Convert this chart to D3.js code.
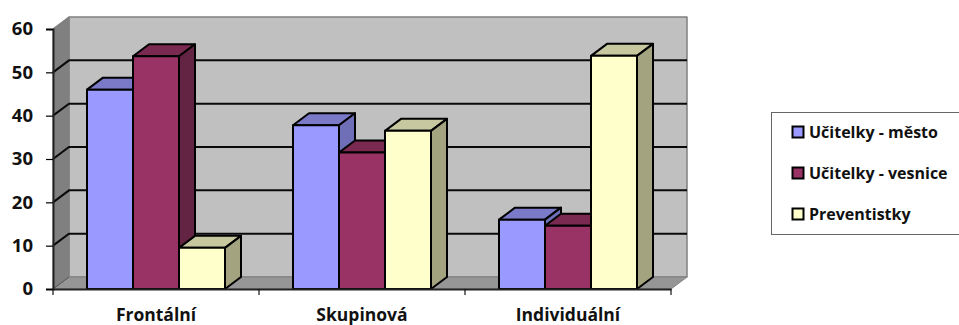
<!DOCTYPE html>
<html>
<head>
<meta charset="utf-8">
<script src="https://cdn.jsdelivr.net/npm/d3@7"></script>
<style>
html,body{margin:0;padding:0;background:#fff;overflow:hidden}
svg{display:block}
text{font-family:"Open Sans",Lato,sans-serif;font-weight:700;fill:#111}
</style>
</head>
<body>
<svg id="chart" width="959" height="325"></svg>
<script>
const categories = ["Frontální", "Skupinová", "Individuální"];
const seriesNames = ["Učitelky - město", "Učitelky - vesnice", "Preventistky"];
const mesto = [46, 37.8, 16];
const vesnice = [53.7, 31.5, 14.6];
const preventistky = [9.5, 36.5, 53.8];
const seriesValues = [mesto, vesnice, preventistky];
const frontColors = ["#9999ff", "#993366", "#ffffcc"];
const topColors = ["#7a7ac8", "#7a2950", "#c8c8a0"];
const sideColors = ["#6f6fb8", "#632342", "#a3a380"];
const yTicks = [0, 10, 20, 30, 40, 50, 60];

const svg = d3.select("#chart");
const depthX = 16, depthY = -12;
const plot = {left: 53, right: 671, top: 29, bottom: 289};

const x = d3.scaleBand().domain(categories).range([plot.left, plot.right]);
const y = d3.scaleLinear().domain([0, 60]).range([plot.bottom, plot.top]);
const inner = d3.scaleBand().domain(d3.range(seriesNames.length))
  .range([34, x.bandwidth() - 34]);

const poly = (pts, fill, stroke, sw) => svg.append("polygon")
  .attr("points", pts.map(p => p.join(",")).join(" "))
  .attr("fill", fill)
  .attr("stroke", stroke)
  .attr("stroke-width", sw)
  .attr("stroke-linejoin", "round");

const l = plot.left, r = plot.right, t = plot.top, b = plot.bottom;

// Walls and floor of the 3D box
poly([[l + depthX, t + depthY], [r + depthX, t + depthY], [r + depthX, b + depthY], [l + depthX, b + depthY]],
  "#c0c0c0", "#808080", 1.5);
poly([[l, t], [l + depthX, t + depthY], [l + depthX, b + depthY], [l, b]], "#808080", "#808080", 1);
poly([[l, b], [l + depthX, b + depthY], [r + depthX, b + depthY], [r, b]], "#969696", "#808080", 1);

// Gridlines wrap from the left wall onto the back wall
yTicks.filter(v => v > 0 && v < 60).forEach(v => {
  svg.append("path")
    .attr("d", `M${l},${y(v)}L${l + depthX},${y(v) + depthY}H${r + depthX}`)
    .attr("fill", "none").attr("stroke", "#0a0a0a").attr("stroke-width", 2);
});
svg.append("path")
  .attr("d", `M${l},${y(60)}L${l + depthX},${y(60) + depthY}`)
  .attr("fill", "none").attr("stroke", "#808080").attr("stroke-width", 1.2);
svg.append("path")
  .attr("d", `M${l},${y(0)}L${l + depthX},${y(0) + depthY}`)
  .attr("fill", "none").attr("stroke", "#555").attr("stroke-width", 1);

// Bars, painted series by series so later fronts overlap earlier sides
categories.forEach((cat, c) => {
  seriesValues.forEach((vals, s) => {
    const x0 = x(cat) + inner(s), x1 = x0 + inner.bandwidth();
    const y0 = y(vals[c]), yb = y(0);
    poly([[x0, y0], [x0 + depthX, y0 + depthY], [x1 + depthX, y0 + depthY], [x1, y0]], topColors[s], "#000", 2);
    poly([[x1, y0], [x1 + depthX, y0 + depthY], [x1 + depthX, yb + depthY], [x1, yb]], sideColors[s], "#000", 2);
    poly([[x0, y0], [x1, y0], [x1, yb], [x0, yb]], frontColors[s], "#000", 2);
  });
});

// Axes
const yAxis = svg.append("g").attr("transform", `translate(${l},0)`)
  .call(d3.axisLeft(y).tickValues(yTicks).tickSize(7).tickPadding(13));
const xAxis = svg.append("g").attr("transform", `translate(0,${b})`)
  .call(d3.axisBottom(x).tickSize(0).tickPadding(20));
xAxis.selectAll("g.tick").each(function () {
  d3.select(this).select("line").remove();
});
const tickEdges = categories.map(cat => x(cat)).concat(plot.right);
xAxis.selectAll("line.edge").data(tickEdges).join("line")
  .attr("class", "edge")
  .attr("x1", d => d).attr("x2", d => d).attr("y1", 0).attr("y2", 6)
  .attr("stroke", "#111").attr("stroke-width", 1.2);
[yAxis, xAxis].forEach(g => {
  g.select(".domain").attr("stroke", "#222").attr("stroke-width", 2);
  g.selectAll("line").attr("stroke-width", 1.2);
  g.attr("font-family", null);
  g.selectAll("text").style("font-size", "17.5px").attr("fill", "#111");
});
yAxis.selectAll("text").style("font-size", "18.5px");

// Legend
const legendY = d3.scalePoint().domain(seriesNames).range([132, 214]);
svg.append("rect").attr("x", 771.5).attr("y", 112.5).attr("width", 197).attr("height", 122)
  .attr("fill", "#fff").attr("stroke", "#666").attr("stroke-width", 1);
const items = svg.selectAll("g.legend").data(seriesNames).join("g")
  .attr("class", "legend")
  .attr("transform", d => `translate(0,${legendY(d)})`);
items.append("rect").attr("x", 792.5).attr("y", -5.5).attr("width", 11).attr("height", 11)
  .attr("fill", (d, i) => frontColors[i]).attr("stroke", "#000").attr("stroke-width", 2);
items.append("text").attr("x", 809).attr("dy", "0.35em").style("font-size", "16px").text(d => d);
</script>
</body>
</html>
